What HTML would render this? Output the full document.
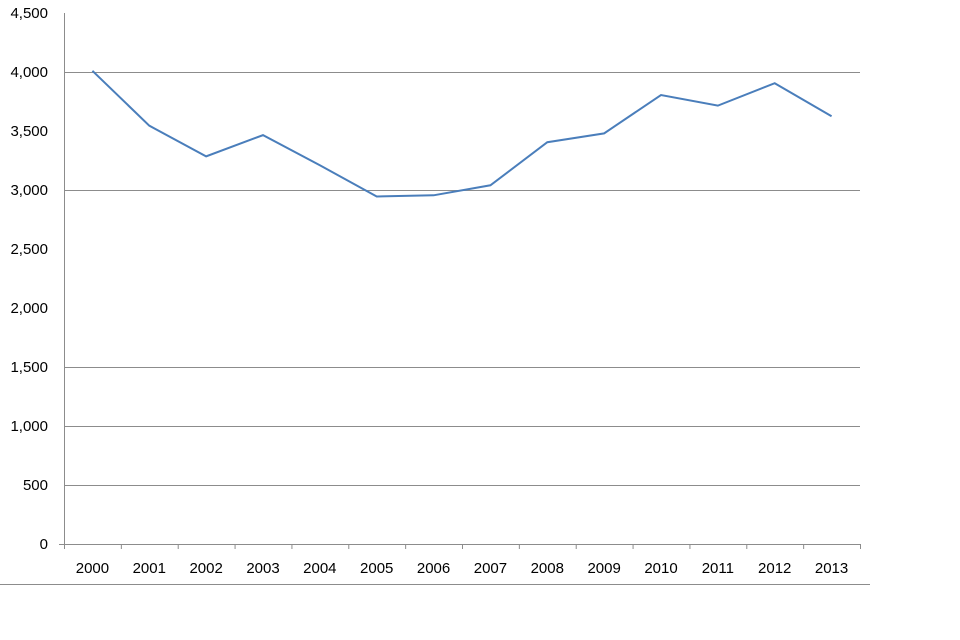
<!DOCTYPE html>
<html><head><meta charset="utf-8"><style>body{margin:0;background:#fff}svg{display:block;font-family:"Liberation Sans",sans-serif}</style></head>
<body>
<svg id="chart" width="960" height="640" viewBox="0 0 960 640"></svg>
<script>
const categories=["2000","2001","2002","2003","2004","2005","2006","2007","2008","2009","2010","2011","2012","2013"];
const values=[4010,3545,3285,3465,3210,2945,2955,3040,3405,3480,3805,3715,3905,3625];
const yTicks=[0,500,1000,1500,2000,2500,3000,3500,4000,4500];
const yTickLabels=["0","500","1,000","1,500","2,000","2,500","3,000","3,500","4,000","4,500"];
const gridValues=[500,1000,1500,3000,4000];
const NS="http://www.w3.org/2000/svg";
const svg=document.getElementById('chart');
const L=64,R=860,T=13,B=544;
const y=v=>B-(v/4500)*(B-T);
const step=(R-L)/categories.length;
const x=i=>L+step*(i+0.5);
function mk(t,a,p){const e=document.createElementNS(NS,t);for(const k in a)e.setAttribute(k,a[k]);(p||svg).appendChild(e);return e;}
gridValues.forEach(v=>{
 const g=mk('line',{x1:L,x2:R,y1:y(v)+0.5,y2:y(v)+0.5,stroke:'#8c8c8c','stroke-width':1});
 
 
});
const ax=mk('line',{x1:L+0.5,x2:L+0.5,y1:T,y2:B,stroke:'#8c8c8c'});


const xa=mk('line',{x1:L-5,x2:R,y1:B+0.5,y2:B+0.5,stroke:'#8c8c8c'});


yTicks.forEach((v,i)=>{
 const t=mk('text',{x:L-16,y:y(v)+5,'text-anchor':'end','font-size':15,fill:'#000'});
 t.textContent=yTickLabels[i];
 
 
});
for(let i=0;i<=categories.length;i++){
 const tk=mk('line',{x1:L+step*i+0.5,x2:L+step*i+0.5,y1:B,y2:B+5,stroke:'#8c8c8c'});
 
 
}
categories.forEach((c,i)=>{
 const t=mk('text',{x:x(i),y:B+29,'text-anchor':'middle','font-size':15,fill:'#000'});
 t.textContent=c;
 
 
});
const p=mk('polyline',{points:values.map((v,i)=>x(i)+','+y(v)).join(' '),fill:'none',stroke:'#4a7ebb','stroke-width':2});


const bl=mk('line',{x1:0,x2:870,y1:584.5,y2:584.5,stroke:'#8c8c8c'});


</script>
</body></html>
